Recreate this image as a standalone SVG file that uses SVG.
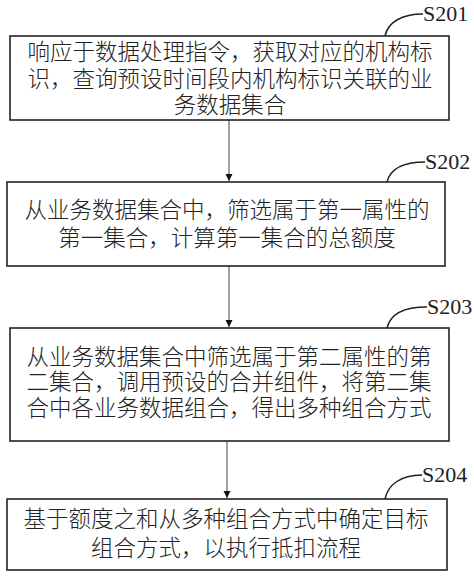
<svg xmlns="http://www.w3.org/2000/svg" width="474" height="578" viewBox="0 0 474 578">
<defs>
<style>
.box{fill:#fff;stroke:#222;stroke-width:1.6}
.t{font-family:"Noto Sans CJK SC","Noto Sans",sans-serif;font-size:22.5px;font-weight:300;fill:#222;text-anchor:middle}
.lbl{font-family:"Liberation Serif","Times New Roman",serif;font-size:22px;fill:#222}
.lead{fill:none;stroke:#222;stroke-width:1.5}
.conn{fill:none;stroke:#555;stroke-width:1.1}
</style>
<marker id="ah" viewBox="0 0 10 10" refX="10" refY="5" markerWidth="7" markerHeight="10" markerUnits="userSpaceOnUse" orient="auto">
<path d="M0,0 L10,5 L0,10 Z" fill="#111"/>
</marker>
</defs>
<rect width="474" height="578" fill="#fff"/>
<g id="connectors">
<line class="conn" x1="229" y1="120" x2="229" y2="181" marker-end="url(#ah)"/>
<line class="conn" x1="229" y1="266" x2="229" y2="327" marker-end="url(#ah)"/>
<line class="conn" x1="227" y1="441" x2="227" y2="498" marker-end="url(#ah)"/>
</g>
<g id="S201">
<rect class="box" x="10" y="36" width="439" height="84"/>
<text class="t" x="230" y="60">响应于数据处理指令，获取对应的机构标</text>
<text class="t" x="230" y="87">识，查询预设时间段内机构标识关联的业</text>
<text class="t" x="230" y="113">务数据集合</text>
<path class="lead" d="M385,36 C388,22 402,14 423,14"/>
<text class="lbl" x="423" y="21">S201</text>
</g>
<g id="S202">
<rect class="box" x="7" y="182" width="438" height="84"/>
<text class="t" x="227" y="218">从业务数据集合中，筛选属于第一属性的</text>
<text class="t" x="227" y="246">第一集合，计算第一集合的总额度</text>
<path class="lead" d="M387,182 C390,170 402,162 425,162"/>
<text class="lbl" x="425" y="169">S202</text>
</g>
<g id="S203">
<rect class="box" x="10" y="328" width="439" height="113"/>
<text class="t" x="229" y="365">从业务数据集合中筛选属于第二属性的第</text>
<text class="t" x="229" y="390">二集合，调用预设的合并组件，将第二集</text>
<text class="t" x="229" y="416">合中各业务数据组合，得出多种组合方式</text>
<path class="lead" d="M387,328 C390,315 403,307 427,307"/>
<text class="lbl" x="427" y="314">S203</text>
</g>
<g id="S204">
<rect class="box" x="7" y="499" width="440" height="71"/>
<text class="t" x="226" y="527">基于额度之和从多种组合方式中确定目标</text>
<text class="t" x="226" y="556">组合方式，以执行抵扣流程</text>
<path class="lead" d="M385,499 C388,485 400,475 422,475"/>
<text class="lbl" x="422" y="482">S204</text>
</g>
</svg>
